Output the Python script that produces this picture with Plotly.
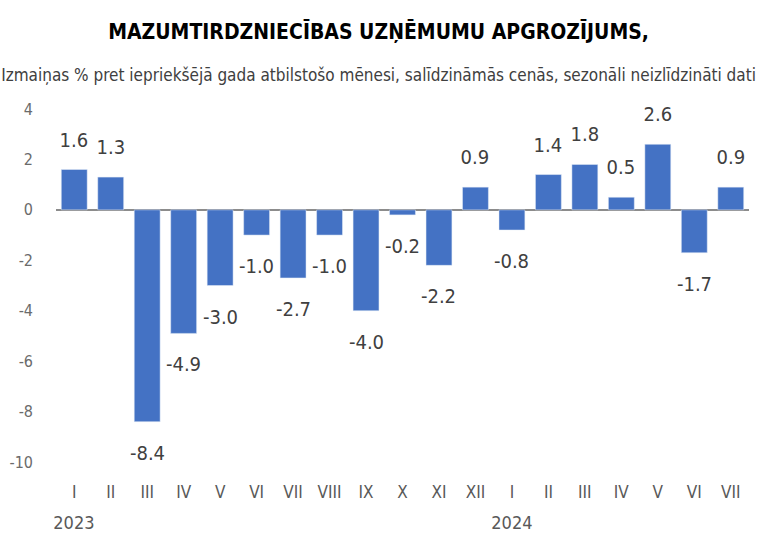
import plotly.graph_objects as go

months = ["I", "II", "III", "IV", "V", "VI", "VII", "VIII", "IX", "X", "XI", "XII",
          "I", "II", "III", "IV", "V", "VI", "VII"]
years = ["2023"] * 12 + ["2024"] * 7
values = [1.6, 1.3, -8.4, -4.9, -3.0, -1.0, -2.7, -1.0, -4.0, -0.2, -2.2, 0.9,
          -0.8, 1.4, 1.8, 0.5, 2.6, -1.7, 0.9]
y_ticks = [4, 2, 0, -2, -4, -6, -8, -10]
y_tick_text = ["4", "2", "0", "-2", "-4", "-6", "-8", "-10"]

FONT = "DejaVu Sans, sans-serif"
idx = list(range(len(values)))

W, H = 757, 541
L, R, T, B = 56, 8, 109, 79
PH = H - T - B


def py(pixel_y):
    return (H - B - pixel_y) / PH


fig = go.Figure()
fig.add_trace(go.Bar(x=idx, y=values, marker_color="#4472C4", width=0.71,
                     hoverinfo="skip"))

for i, v in zip(idx, values):
    fig.add_annotation(
        x=i, y=v, xref="x", yref="y", text=f"{v:.1f}", showarrow=False,
        yanchor="bottom" if v >= 0 else "top",
        yshift=16 if v >= 0 else -17,
        font=dict(family=FONT, size=20, color="#404040"))

for yr in ["2023", "2024"]:
    i0 = years.index(yr)
    fig.add_annotation(
        x=i0, y=py(522), xref="x", yref="paper", text=yr, showarrow=False,
        yanchor="middle", font=dict(family=FONT, size=18, color="#595959"))

fig.add_annotation(text="<b>MAZUMTIRDZNIECĪBAS UZŅĒMUMU APGROZĪJUMS,</b>",
                   x=(W / 2 - L) / (W - L - R), xref="paper", y=py(31), yref="paper",
                   showarrow=False, yanchor="middle",
                   font=dict(family=FONT, size=21, color="#000000"))
fig.add_annotation(text="Izmaiņas % pret iepriekšējā gada atbilstošo mēnesi, salīdzināmās cenās, sezonāli neizlīdzināti dati",
                   x=(W / 2 - L) / (W - L - R), xref="paper", y=py(75), yref="paper",
                   showarrow=False, yanchor="middle",
                   font=dict(family=FONT, size=17, color="#404040"))

fig.update_layout(
    width=W, height=H,
    margin=dict(l=L, r=R, t=T, b=B),
    paper_bgcolor="white", plot_bgcolor="white",
    showlegend=False,
    font=dict(family=FONT, color="#595959"),
    xaxis=dict(tickmode="array", tickvals=idx, ticktext=months,
               range=[-0.5, len(values) - 0.5], showgrid=False, zeroline=False,
               showline=False, ticks="", ticklabelstandoff=18,
               tickfont=dict(family=FONT, size=17, color="#595959")),
    yaxis=dict(range=[-10, 4], tickmode="array", tickvals=y_ticks,
               ticktext=y_tick_text, showgrid=False,
               zeroline=True, zerolinecolor="#8c8c8c", zerolinewidth=2,
               showline=False, ticks="", ticklabelstandoff=22,
               tickfont=dict(family=FONT, size=16, color="#6b6b6b")),
)

post = """
var st=document.createElement('style');
st.textContent='html,body{margin:0;padding:0;} .js-plotly-plot svg text{font-stretch:condensed !important;}';
document.head.appendChild(st);
var gd=document.getElementById('{plot_id}');
Plotly.newPlot(gd, gd.data, gd.layout, {displayModeBar:false, responsive:false});
"""
fig.write_html("out.html", post_script=post, config={"displayModeBar": False})
